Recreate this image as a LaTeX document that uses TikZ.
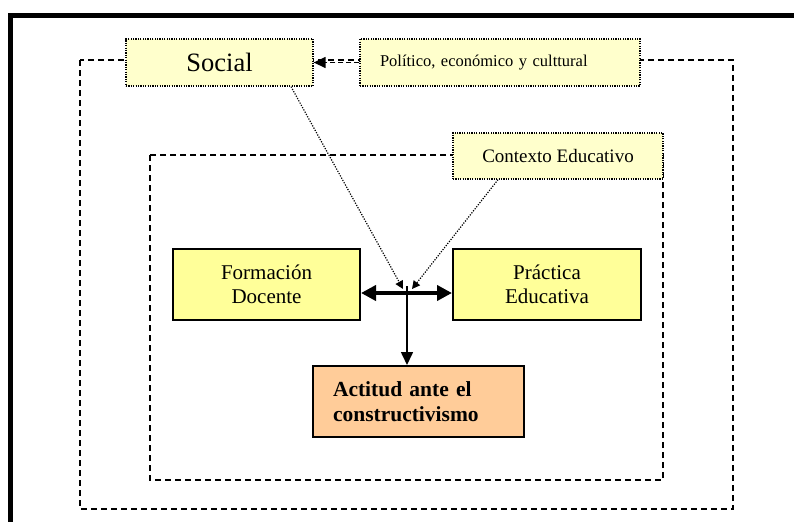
\documentclass[tikz,border=0pt]{standalone}
\usepackage{fontspec}
\setmainfont{Liberation Serif}
\usetikzlibrary{arrows.meta}
\definecolor{paleyellow}{HTML}{FFFFCC}
\definecolor{boxyellow}{HTML}{FFFF99}
\definecolor{peach}{HTML}{FFCC99}
\begin{document}
\begin{tikzpicture}[x=1pt,y=-1pt,
  framebox/.style={line width=1.4pt, dash pattern=on 6pt off 4pt},
  notebox/.style={draw, fill=paleyellow, line width=1.3pt, dash pattern=on 1.2pt off 1.2pt, inner sep=0pt, align=center},
  solidbox/.style={draw, fill=#1, line width=2pt, inner sep=0pt, align=center},
  influence/.style={line width=1.2pt, dash pattern=on 1.2pt off 1.4pt, -{Triangle[length=8pt,width=8pt]}},
]
\useasboundingbox (0,0) rectangle (794,522);

% page frame
\draw[line width=5pt] (794,15.5) -- (10.5,15.5) -- (10.5,522);

% context boundaries
\draw[framebox] (80,60) rectangle (733,509);
\draw[framebox] (150,155) rectangle (663,480);

% labels of the contexts
\node[notebox, minimum width=187pt, minimum height=47pt, font=\fontsize{26.5}{30}\selectfont]
  (social) at (219.5,62.5) {Social};
\node[notebox, minimum height=47pt, text width=240pt, inner xsep=20pt, align=left,
      font=\fontsize{16.5}{19}\selectfont]
  (politico) at (500,62.5) {Político, económico y culttural};
\node[notebox, minimum width=210pt, minimum height=46pt, font=\fontsize{19}{22}\selectfont]
  (contexto) at (558,156) {Contexto Educativo};

% main elements
\node[solidbox=boxyellow, minimum width=187pt, minimum height=71pt, font=\fontsize{21}{24}\selectfont]
  (formacion) at (266.5,284.5) {Formación\\Docente};
\node[solidbox=boxyellow, minimum width=188pt, minimum height=71pt, font=\fontsize{21}{24}\selectfont]
  (practica) at (547,284.5) {Práctica\\Educativa};
\node[solidbox=peach, minimum width=211pt, minimum height=71pt, text width=171pt, inner xsep=20pt,
      align=left, font=\fontsize{21.5}{25}\selectfont\bfseries]
  (actitud) at (418.5,401.5) {Actitud ante el\\constructivismo};

% junction points
\coordinate (j) at (407,293);
\coordinate (jt) at (407,286);
\coordinate (jl) at (403,289);
\coordinate (jr) at (412,289);

% connectors
\draw[line width=1.4pt, dash pattern=on 5pt off 3pt, -{Triangle[length=12pt,width=11pt]}]
  (politico.west) -- (social.east);
\draw[influence] ([xshift=71.5pt]social.south) -- (jl);
\draw[influence] ([xshift=-60pt]contexto.south) -- (jr);
\draw[line width=4.5pt, {Triangle[length=15pt,width=15pt]}-{Triangle[length=15pt,width=15pt]}]
  (formacion.east |- j) -- (practica.west |- j);
\draw[line width=1.6pt, -{Triangle[length=13pt,width=12pt]}] (jt) -- (jt |- actitud.north);
\end{tikzpicture}
\end{document}
